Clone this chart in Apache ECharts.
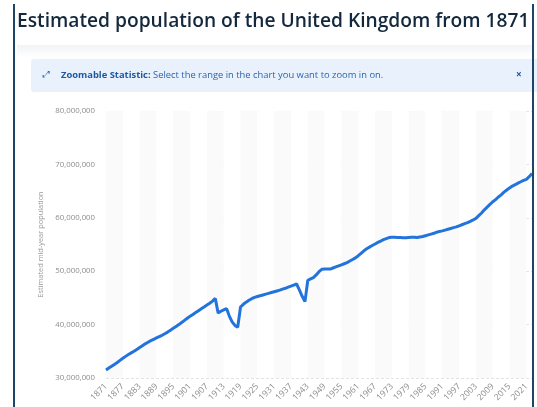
<!DOCTYPE html>
<html>
<head>
<meta charset="utf-8">
<script src="https://cdn.jsdelivr.net/npm/echarts@6/dist/echarts.min.js"></script>
<style>
  html, body { margin:0; padding:0; background:#fff; }
  #wrap { position:relative; width:537px; height:407px; overflow:hidden; font-family:"Open Sans", sans-serif; }
  #chart { position:absolute; left:0; top:0; width:537px; height:407px; }
  .title { position:absolute; left:17px; top:6px; font-size:19.2px; font-weight:600; color:#13283d; white-space:nowrap; letter-spacing:0; }
  .bl { position:absolute; left:13px; top:4px; width:2px; height:403px; background:#1d4566; }
  .br { position:absolute; left:532px; top:4px; width:2px; height:403px; background:#1d4566; }
  .card { position:absolute; left:17px; top:45px; width:515px; height:12px; background:linear-gradient(#f1f3f5, #fff); }
  .notice { position:absolute; left:31px; top:59px; width:520px; height:33px; background:#e9f2fc; border-radius:3px; }
  .ntext { position:absolute; left:61px; top:68px; font-size:9.4px; color:#2a65b0; white-space:nowrap; }
  .ntext b { font-weight:700; color:#1d58a3; }
  .icon { position:absolute; left:43px; top:67px; font-size:9px; color:#2a65b0; }
  .close { position:absolute; left:516px; top:67px; font-size:10px; font-weight:700; color:#1d58a3; }
</style>
</head>
<body>
<div id="wrap">
  <div id="chart"></div>
  <div class="card"></div>
  <div class="title">Estimated population of the United Kingdom from 1871</div>
  <div class="notice"></div>
  <div class="icon">⤢</div>
  <div class="ntext"><b>Zoomable Statistic:</b> Select the range in the chart you want to zoom in on.</div>
  <div class="close">×</div>
  <div class="bl"></div>
  <div class="br"></div>
</div>
<script>
// Categories: years 1871..2023
const years = [];
for (let y = 1871; y <= 2023; y++) years.push(String(y));

// Estimated mid-year population, in millions
const populationMillions = [
  31.5, 31.85, 32.2, 32.55, 32.9, 33.3, 33.7, 34.05, 34.4, 34.7,        // 1871-1880
  35.0, 35.35, 35.7, 36.05, 36.4, 36.7, 37.0, 37.25, 37.5, 37.75,       // 1881-1890
  38.0, 38.3, 38.6, 38.95, 39.3, 39.65, 40.0, 40.4, 40.8, 41.2,         // 1891-1900
  41.55, 41.9, 42.25, 42.6, 42.95, 43.3, 43.65, 44.0, 44.4, 44.9,       // 1901-1910
  42.2, 42.5, 42.75, 43.0, 41.6, 40.5, 39.85, 39.5, 43.3, 43.8,         // 1911-1920
  44.2, 44.55, 44.85, 45.1, 45.25, 45.4, 45.55, 45.7, 45.85, 46.0,      // 1921-1930
  46.15, 46.3, 46.45, 46.65, 46.8, 47.0, 47.2, 47.4, 47.6, 46.5,        // 1931-1940
  45.3, 44.3, 48.3, 48.55, 48.8, 49.3, 49.9, 50.35, 50.4, 50.4,         // 1941-1950
  50.4, 50.6, 50.8, 51.0, 51.2, 51.4, 51.6, 51.9, 52.2, 52.5,           // 1951-1960
  52.9, 53.35, 53.8, 54.2, 54.5, 54.8, 55.1, 55.4, 55.65, 55.9,         // 1961-1970
  56.1, 56.3, 56.35, 56.35, 56.3, 56.3, 56.25, 56.25, 56.3, 56.35,      // 1971-1980
  56.35, 56.3, 56.4, 56.5, 56.65, 56.8, 56.95, 57.1, 57.3, 57.45,       // 1981-1990
  57.55, 57.7, 57.85, 58.0, 58.15, 58.3, 58.5, 58.7, 58.9, 59.1,        // 1991-2000
  59.35, 59.6, 59.9, 60.4, 60.9, 61.5, 62.0, 62.5, 63.0, 63.4,          // 2001-2010
  63.9, 64.3, 64.8, 65.2, 65.6, 65.95, 66.2, 66.5, 66.75, 67.0,         // 2011-2020
  67.2, 67.7, 68.3                                                      // 2021-2023
];

const yMin = 30000000, yMax = 80000000, yStep = 10000000;
const yAxisTitle = 'Estimated mid-year population';

const chart = echarts.init(document.getElementById('chart'), null, { renderer: 'canvas' });
chart.setOption({
  animation: false,
  grid: { left: 106, right: 5, top: 111, bottom: 29 },
  xAxis: {
    type: 'category',
    data: years,
    boundaryGap: false,
    axisLine: { show: false },
    axisTick: { show: false },
    axisLabel: { interval: 5, rotate: 45, fontSize: 8.6, color: '#8c8c8c', margin: 7, fontFamily: 'Open Sans' },
    splitLine: { show: false },
    splitArea: { show: true, interval: 5, areaStyle: { color: ['#fafafa', '#ffffff'] } }
  },
  yAxis: {
    type: 'value',
    min: yMin, max: yMax, interval: yStep,
    name: yAxisTitle,
    nameLocation: 'middle',
    nameGap: 52,
    nameTextStyle: { fontSize: 7.4, color: '#9a9a9a', fontFamily: 'Open Sans' },
    axisLine: { show: false },
    axisTick: { show: false },
    axisLabel: {
      fontSize: 7.8, color: '#8c8c8c', margin: 11, fontFamily: 'Open Sans',
      formatter: v => v.toLocaleString('en-US')
    },
    splitLine: { lineStyle: { color: '#e3e3e3', type: [3, 2], width: 1 } }
  },
  series: [{
    type: 'line',
    data: populationMillions.map(v => Math.round(v * 1000000)),
    showSymbol: false,
    lineStyle: { color: '#2273dc', width: 3 },
    itemStyle: { color: '#2273dc' }
  }]
});
</script>
</body>
</html>
